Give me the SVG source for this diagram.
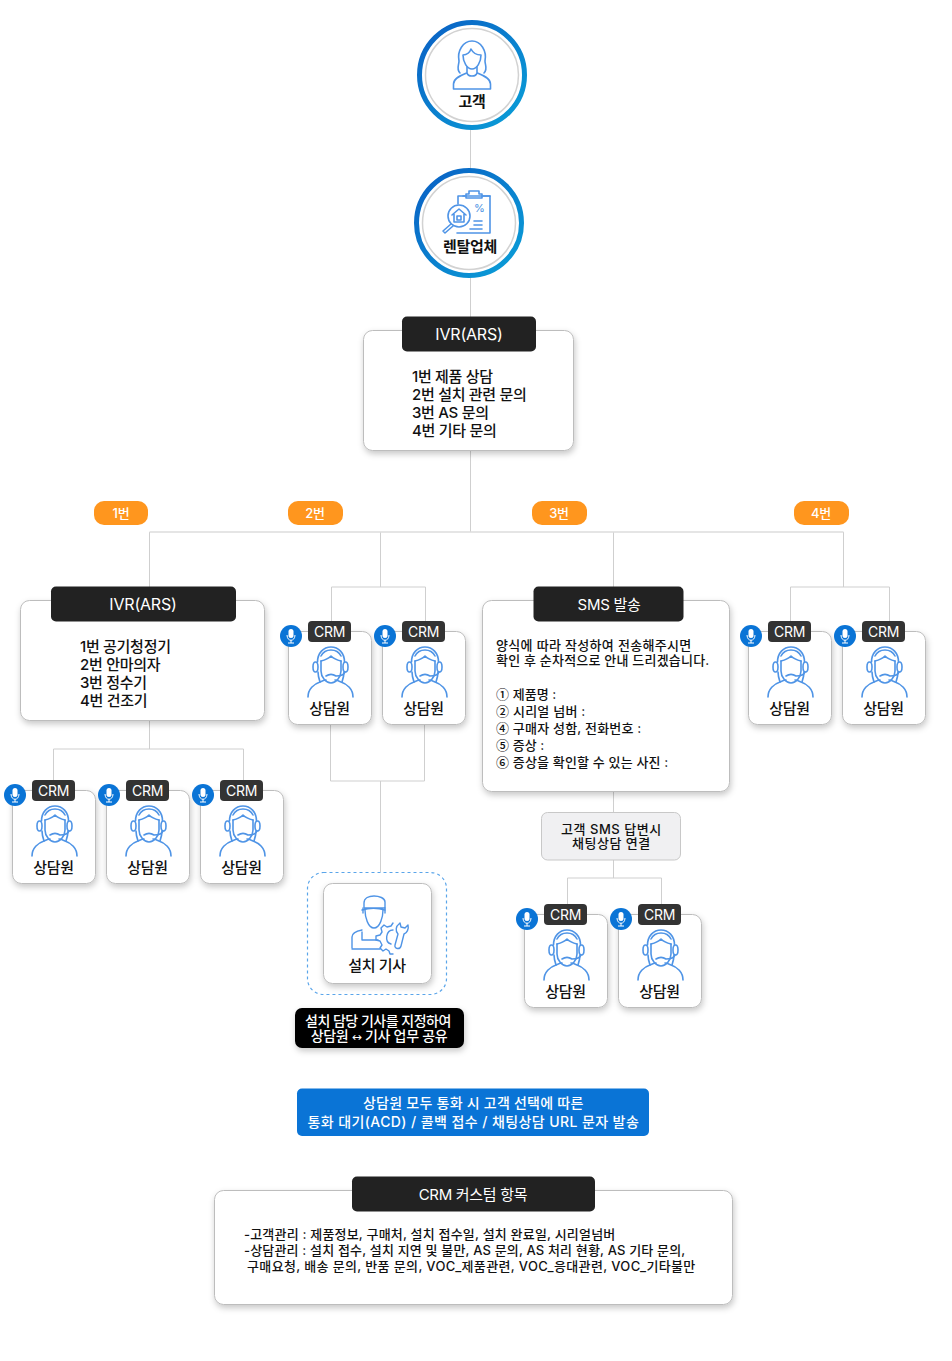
<svg xmlns="http://www.w3.org/2000/svg" width="952" height="1361" viewBox="0 0 952 1361">
<style>
text{font-family:"Inter","Noto Sans CJK KR","Noto Sans",sans-serif;fill:#111;letter-spacing:-.3px}
.c{text-anchor:middle}
.w{fill:#fff}
.ln{fill:none;stroke:#cfcfcf;stroke-width:1}
.h{fill:none;stroke:#dcdcdc;stroke-width:1.400}
.card{fill:#fff;stroke:#bdbdbd;stroke-width:1;filter:url(#sh)}
.dark{fill:#222}
.ic{fill:none;stroke:#4f94e6;stroke-width:1.600;stroke-linejoin:round;stroke-linecap:round}
.t14{font-size:14px;font-weight:500}
.t13{font-size:13px;font-weight:500}
.t15{font-size:15px;font-weight:500}
.hd{font-size:16px;font-weight:400;letter-spacing:-.2px}
.hk{font-size:15px;font-weight:400}
.tag{fill:#ff961e}
.cj{font-family:"Noto Sans CJK KR",sans-serif}
</style>
<defs>
<filter id="sh" x="-20%" y="-20%" width="140%" height="150%"><feDropShadow dx="1" dy="3" stdDeviation="3" flood-color="#000" flood-opacity=".22"/></filter>
<linearGradient id="ring" x1="0" y1="0" x2="1" y2="1"><stop offset="0" stop-color="#0a5fc4"/><stop offset="1" stop-color="#0aa0d8"/></linearGradient>
<g id="agent">
<rect class="card" x=".5" y=".5" width="83" height="93" rx="9"/>
<g class="ic">
<path d="M20 66c0-8 6-13 12-15 2-1 4-2 6-2M65 66c0-8-6-13-12-15-2-1-4-2-6-2"/>
<path d="M33 30v10c0 6 5 12 10 12s10-6 10-12V30"/>
<path d="M33 30c4-1 7-2 10-5 3 3 6 4 10 5"/>
<path d="M29.500 31c0-9 6-15 13.500-15s13.500 6 13.500 15"/>
<path d="M33 25c2-4 6-6 10-6s8 2 10 6"/>
<ellipse cx="27.500" cy="36" rx="2.500" ry="5"/>
<ellipse cx="57.500" cy="36" rx="2.500" ry="5"/>
<path d="M57 41c-1 3-5 4-9 4M38 45c3-2 7-2 10 0"/>
<path d="M30 41c0 4 1 7 2 10M56 41c0 4-1 7-2 10"/>
</g>
<rect x="20" y="-10" width="43" height="21" rx="4" fill="#333"/>
<text class="c w" x="41.500" y="5.500" font-size="14" style="fill:#fff">CRM</text>
<circle cx="3" cy="5" r="11" fill="#0a74d6"/>
<rect x=".5" y="-2" width="5" height="9" rx="2.500" fill="#fff"/>
<path d="M-1 4c0 7 8 7 8 0M3 9v3M0 12h6" fill="none" stroke="#fff" stroke-width="1"/>
<text class="c t15" x="41.500" y="83">상담원</text>
</g>
</defs>
<rect width="952" height="1361" fill="#fff"/>

<g id="connectors">
<path class="ln" d="M470.500 128V172M470.500 275V332M470.500 450V532M149.500 587V532M843.500 532V587M380.500 532V587M613.500 532V587"/>
<path class="h" d="M149.500 532H843.500"/>
<path class="ln" d="M331.500 633V587H425.500V633M790.500 633V587H889.500V633"/>
<path class="ln" d="M149.500 721V749M53.500 790V749H243.500V790"/>
<path class="ln" d="M330.500 724V781H424.500V724M380.500 781V872"/>
<path class="ln" d="M613.500 792V813M613.500 860V878M567.500 914V878H661.500V914"/>
</g>

<g id="customer">
<circle cx="472" cy="75" r="52.500" fill="#fff" stroke="url(#ring)" stroke-width="5"/>
<circle cx="472" cy="75" r="46.500" fill="#fff" stroke="#d2d2d2" stroke-width="1.500"/>
<g class="ic">
<path d="M453.500 89v-5c0-6 8-9 13-11M490.500 89v-5c0-6-8-9-13-11M453.500 89h37"/>
<path d="M463 55c0 7 4 14 9 14s9-7 9-14c-4 0-8-2-10-6-1 3-4 6-8 6z"/>
<path d="M467 67v6c1 4 9 4 10 0v-6"/>
<path d="M460 73c-4-4-1-8-1-12-2-10 4-20 13-20s15 10 13 20c0 4 3 8-1 12"/>
</g>
<text class="c" x="472" y="107" font-size="15" font-weight="700">고객</text>
</g>

<g id="rental">
<circle cx="469" cy="223" r="52.500" fill="#fff" stroke="url(#ring)" stroke-width="5"/>
<circle cx="469" cy="223" r="46.500" fill="#fff" stroke="#d2d2d2" stroke-width="1.500"/>
<g class="ic">
<path d="M458 204v-8h32v37h-33"/>
<path d="M463 196h2M483 196h7"/>
<path d="M466 198h16v-4h-3v-3h-10v3h-3z"/>
<circle cx="459" cy="216" r="11"/>
<path d="M451 224l-8 7 2 2 8-7M452 215l7-6 7 6M454 214v8h10v-8M457 216h4v4h-4z"/>
<path d="M474 221h8M474 225h8M470 229h12"/>
</g>
<text x="474" y="212" font-size="11" style="fill:#4a90e2">%</text>
<text class="c" x="470" y="252" font-size="15" font-weight="700">렌탈업체</text>
</g>

<g id="ivr-main">
<rect class="card" x="363.500" y="330.500" width="210" height="120" rx="9"/>
<rect class="dark" x="402" y="316.500" width="134" height="35" rx="5"/>
<text class="c hd" x="469" y="340" style="fill:#fff">IVR(ARS)</text>
<text class="t15" x="412" y="382">1번 제품 상담</text>
<text class="t15" x="412" y="400">2번 설치 관련 문의</text>
<text class="t15" x="412" y="418">3번 AS 문의</text>
<text class="t15" x="412" y="436">4번 기타 문의</text>
</g>

<g id="tag1"><rect class="tag" x="94" y="501" width="54" height="24" rx="10"/><text class="c t13" x="121" y="518" style="fill:#fff">1번</text></g>
<g id="tag2"><rect class="tag" x="288" y="501" width="55" height="24" rx="10"/><text class="c t13" x="315" y="518" style="fill:#fff">2번</text></g>
<g id="tag3"><rect class="tag" x="532" y="501" width="55" height="24" rx="10"/><text class="c t13" x="559" y="518" style="fill:#fff">3번</text></g>
<g id="tag4"><rect class="tag" x="794" y="501" width="55" height="24" rx="10"/><text class="c t13" x="821" y="518" style="fill:#fff">4번</text></g>

<g id="ivr-1">
<rect class="card" x="20.500" y="600.500" width="244" height="120" rx="9"/>
<rect class="dark" x="51" y="586.500" width="185" height="35" rx="5"/>
<text class="c hd" x="143" y="610" style="fill:#fff">IVR(ARS)</text>
<text class="t15" x="80" y="652">1번 공기청정기</text>
<text class="t15" x="80" y="670">2번 안마의자</text>
<text class="t15" x="80" y="688">3번 정수기</text>
<text class="t15" x="80" y="706">4번 건조기</text>
</g>

<g id="agent-1a"><use href="#agent" x="12" y="790"/></g>
<g id="agent-1b"><use href="#agent" x="106" y="790"/></g>
<g id="agent-1c"><use href="#agent" x="200" y="790"/></g>
<g id="agent-2a"><use href="#agent" x="288" y="631"/></g>
<g id="agent-2b"><use href="#agent" x="382" y="631"/></g>
<g id="agent-3a"><use href="#agent" x="524" y="914"/></g>
<g id="agent-3b"><use href="#agent" x="618" y="914"/></g>
<g id="agent-4a"><use href="#agent" x="748" y="631"/></g>
<g id="agent-4b"><use href="#agent" x="842" y="631"/></g>

<g id="sms">
<rect class="card" x="482.500" y="600.500" width="247" height="191" rx="9"/>
<rect class="dark" x="533.500" y="586.500" width="150" height="35" rx="5"/>
<text class="c hk" x="609" y="610" style="fill:#fff">SMS 발송</text>
<text class="t13" x="496" y="650" textLength="195">양식에 따라 작성하여 전송해주시면</text>
<text class="t13" x="496" y="665" textLength="213">확인 후 순차적으로 안내 드리겠습니다.</text>
<text class="t13" x="496" y="699" textLength="60"><tspan class="cj">①</tspan> 제품명 :</text>
<text class="t13" x="496" y="716" textLength="89"><tspan class="cj">②</tspan> 시리얼 넘버 :</text>
<text class="t13" x="496" y="733" textLength="145"><tspan class="cj">④</tspan> 구매자 성함, 전화번호 :</text>
<text class="t13" x="496" y="750" textLength="48"><tspan class="cj">⑤</tspan> 증상 :</text>
<text class="t13" x="496" y="767" textLength="172"><tspan class="cj">⑥</tspan> 증상을 확인할 수 있는 사진 :</text>
</g>

<g id="chat">
<rect x="541.500" y="812.500" width="139" height="47.500" rx="6" fill="#f0f0f2" stroke="#c8c8c8"/>
<text class="c t13" x="611" y="834" textLength="100">고객 SMS 답변시</text>
<text class="c t13" x="611" y="848" textLength="78">채팅상담 연결</text>
</g>

<g id="installer">
<rect x="307.500" y="872.500" width="139" height="122" rx="16" fill="none" stroke="#5aa5ea" stroke-width="1.200" stroke-dasharray="3 3"/>
<rect class="card" x="323.500" y="883.500" width="108" height="100" rx="9"/>
<g class="ic" style="stroke-width:1.400">
<path d="M364 908v-5c0-5 5-7 10-7s11 2 11 6v6zM362 910c7-2 16-2 23 0"/>
<path d="M365 910c0 7 3 18 9 18s9-11 9-18M363 908v5M385 908v5"/>
<path d="M352 948v-11c0-4 5-6 10-7M362 932v8h16M352 949h28"/>
<path d="M393 923l-2 3-4 1-3-2-3 3 1 4-2 3-4 1v4l4 1 2 4-2 3 3 3 3-2 3 2 1 3h3"/>
<path d="M393 930c-7 0-9 12-2 14"/>
<path d="M399 924c-3 2-4 7-1 10l-3 11c-1 4 5 5 6 1l3-12c3-1 5-5 4-9l-3 3-4-1-1-4z"/>
</g>
<text class="c t15" x="377" y="971">설치 기사</text>
</g>

<g id="installer-note">
<rect x="295" y="1008" width="169" height="40" rx="7" fill="#050505" filter="url(#sh)"/>
<text class="c t14" x="378" y="1026" style="fill:#fff" textLength="146">설치 담당 기사를 지정하여</text>
<text class="c t14" x="379" y="1041" style="fill:#fff">상담원 <tspan font-family="DejaVu Sans" font-size="12">↔</tspan> 기사 업무 공유</text>
</g>

<g id="acd">
<rect x="297" y="1088.500" width="352" height="47.500" rx="5" fill="#0a74d6"/>
<text class="c t14" x="473" y="1108" style="fill:#fff" textLength="220">상담원 모두 통화 시 고객 선택에 따른</text>
<text class="c t14" x="473" y="1127" style="fill:#fff" textLength="331">통화 대기(ACD) / 콜백 접수 / 채팅상담 URL 문자 발송</text>
</g>

<g id="crm-custom">
<rect class="card" x="214.500" y="1190.500" width="518" height="114" rx="9"/>
<rect class="dark" x="352" y="1176.500" width="243" height="35" rx="5"/>
<text class="c hk" x="473" y="1199.500" style="fill:#fff">CRM 커스텀 항목</text>
<text class="t13" x="244" y="1239" textLength="371">-고객관리 : 제품정보, 구매처, 설치 접수일, 설치 완료일, 시리얼넘버</text>
<text class="t13" x="244" y="1255" textLength="441">-상담관리 : 설치 접수, 설치 지연 및 불만, AS 문의, AS 처리 현황, AS 기타 문의,</text>
<text class="t13" x="247" y="1271" textLength="448">구매요청, 배송 문의, 반품 문의, VOC_제품관련, VOC_응대관련, VOC_기타불만</text>
</g>
</svg>
